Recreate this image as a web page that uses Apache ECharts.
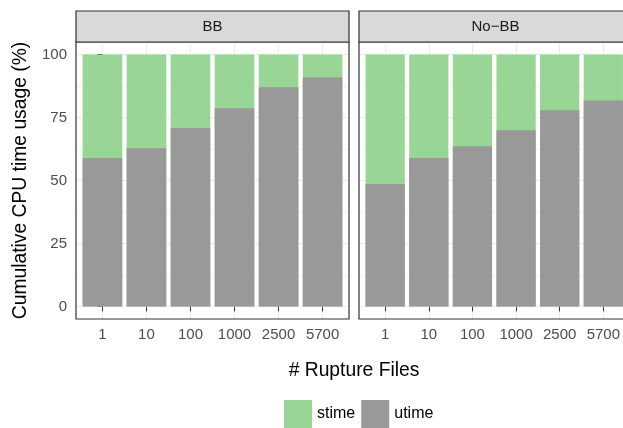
<!DOCTYPE html>
<html>
<head>
<meta charset="utf-8">
<script src="https://cdn.jsdelivr.net/npm/echarts@6/dist/echarts.min.js"></script>
<style>
html,body{margin:0;padding:0;background:#fff;}
#c{width:623px;height:428px;}
</style>
</head>
<body>
<div id="c"></div>
<script>
const categories = ['1', '10', '100', '1000', '2500', '5700'];
const panels = ['BB', 'No\u2212BB'];
const bbUtime = [58.9, 62.8, 70.8, 78.7, 87.0, 90.9];
const bbStime = [41.1, 37.2, 29.2, 21.3, 13.0, 9.1];
const nobbUtime = [48.6, 58.9, 63.6, 70.0, 77.9, 81.8];
const nobbStime = [51.4, 41.1, 36.4, 30.0, 22.1, 18.2];
const yTicks = [0, 25, 50, 75, 100];
const yMinor = [12.5, 37.5, 62.5, 87.5];

const FONT = 'Liberation Sans, Arial, sans-serif';
const GREEN = '#99D594';
const GRAY = '#999999';
const panelData = [[bbUtime, bbStime], [nobbUtime, nobbStime]];
const idx = categories.map((_, i) => i);

const panelLeft = [76, 359];
const panelW = 273, panelTop = 42, panelH = 277, W = 623, H = 428;
const xMin = -0.6, xSpan = categories.length - 1 + 1.2;
const pxPerUnit = panelW / xSpan;

const grids = [], xAxes = [], yAxes = [], series = [], graphics = [];
panelLeft.forEach((left, p) => {
  const visW = Math.min(panelW, W - left);
  grids.push({left: left, top: panelTop, width: visW, height: panelH,
    show: false, containLabel: false});
  xAxes.push({gridIndex: p, type: 'value', min: xMin, max: xMin + visW / pxPerUnit,
    axisLine: {show: false},
    axisTick: {show: true, customValues: idx, length: 5, lineStyle: {color: '#333333', width: 1}},
    axisLabel: {show: true, customValues: idx, formatter: v => categories[Math.round(v)] || '',
      color: '#4D4D4D', fontSize: 15, fontFamily: FONT, margin: 8},
    splitLine: {show: true, lineStyle: {color: '#EBEBEB', width: 1}}});
  yAxes.push({gridIndex: p, type: 'value', min: -5, max: 105,
    axisLine: {show: false},
    axisTick: {show: p === 0, customValues: yTicks, length: 5, lineStyle: {color: '#333333', width: 1}},
    axisLabel: {show: p === 0, customValues: yTicks, color: '#4D4D4D', fontSize: 15, fontFamily: FONT, margin: 9},
    splitLine: {show: true, lineStyle: {color: '#EBEBEB', width: 1}},
    name: p === 0 ? 'Cumulative CPU time usage (%)' : '',
    nameLocation: 'middle', nameGap: 46,
    nameTextStyle: {color: '#000', fontSize: 19.3, fontFamily: FONT}});
  const [ut, st] = panelData[p];
  series.push({name: 'stime', type: 'bar', xAxisIndex: p, yAxisIndex: p,
    barWidth: '90%', barGap: '-100%', itemStyle: {color: GREEN},
    data: idx.map(i => [i, ut[i] + st[i]])});
  series.push({name: 'utime', type: 'bar', xAxisIndex: p, yAxisIndex: p,
    barWidth: '90%', barGap: '-100%', itemStyle: {color: GRAY},
    data: idx.map(i => [i, ut[i]])});
  // panel border (extends past the canvas for the right facet, as in the reference)
  graphics.push({type: 'rect', z: 100, silent: true,
    shape: {x: left, y: panelTop, width: panelW, height: panelH},
    style: {fill: null, stroke: '#333333', lineWidth: 1.2}});
  graphics.push({type: 'rect', z: 100, silent: true, shape: {x: left, y: 11, width: panelW, height: panelTop - 11},
    style: {fill: '#D9D9D9', stroke: '#333333', lineWidth: 1.2}});
  graphics.push({type: 'text', z: 101, x: left + panelW / 2, y: (11 + panelTop) / 2,
    style: {text: panels[p], fill: '#1A1A1A', font: '15px ' + FONT, textAlign: 'center', textVerticalAlign: 'middle'}});
});
// minor horizontal grid lines (ggplot minor breaks)
panelLeft.forEach((left, p) => {
  yAxes.push({gridIndex: p, type: 'value', min: -5, max: 105, position: 'left', z: -1,
    axisLine: {show: false},
    axisTick: {show: false, customValues: yMinor},
    axisLabel: {show: false, customValues: yMinor},
    splitLine: {show: true, lineStyle: {color: '#F3F3F3', width: 1}}});
});
graphics.push({type: 'text', x: (76 + 359 + panelW) / 2, y: 371,
  style: {text: '# Rupture Files', fill: '#000', font: '19.3px ' + FONT, textAlign: 'center', textVerticalAlign: 'middle'}});

const chart = echarts.init(document.getElementById('c'), null, {renderer: 'canvas'});
chart.setOption({
  animation: false,
  backgroundColor: '#fff',
  grid: grids, xAxis: xAxes, yAxis: yAxes, series: series,
  graphic: graphics,
  legend: {data: ['stime', 'utime'], left: 284, top: 400, padding: 0, itemWidth: 28, itemHeight: 28,
    itemGap: 6, icon: 'rect', textStyle: {fontSize: 16, fontFamily: FONT, color: '#000'}}
});
</script>
</body>
</html>
